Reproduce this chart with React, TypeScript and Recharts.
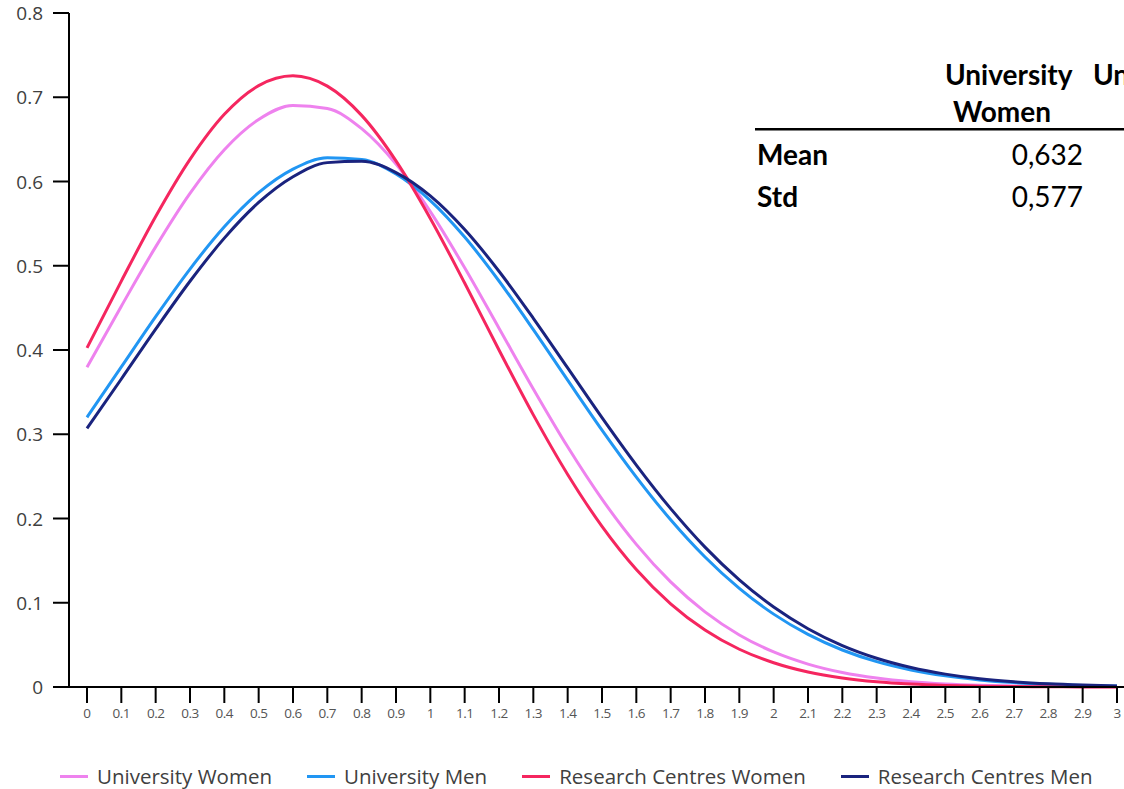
import { Line, LineChart, XAxis, YAxis } from 'recharts';

// x positions (0 to 3, step 0.1)
const xValues = [
  0, 0.1, 0.2, 0.3, 0.4, 0.5, 0.6, 0.7, 0.8, 0.9, 1, 1.1, 1.2, 1.3, 1.4, 1.5, 1.6, 1.7, 1.8, 1.9, 2, 2.1,
  2.2, 2.3, 2.4, 2.5, 2.6, 2.7, 2.8, 2.9, 3,
];

const universityWomen = [
  0.3795, 0.452, 0.5224, 0.5859, 0.6377, 0.6736, 0.6903, 0.6866, 0.6627, 0.6207, 0.5642, 0.4976,
  0.4259, 0.3538, 0.2851, 0.223, 0.1693, 0.1247, 0.0891, 0.0618, 0.0416, 0.0272, 0.0172, 0.0106,
  0.0063, 0.0037, 0.0021, 0.0011, 0.0006, 0.0003, 0.0002,
];

const universityMen = [
  0.3201, 0.3799, 0.4396, 0.4961, 0.5463, 0.5867, 0.6147, 0.6281, 0.6261, 0.6088, 0.5774, 0.5341,
  0.4819, 0.4242, 0.3642, 0.305, 0.2492, 0.1985, 0.1543, 0.117, 0.0865, 0.0624, 0.0439, 0.0301,
  0.0202, 0.0132, 0.0084, 0.0052, 0.0032, 0.0019, 0.0011,
];

const researchWomen = [
  0.4025, 0.4818, 0.5584, 0.6262, 0.6797, 0.7138, 0.7255, 0.7132, 0.6785, 0.6245, 0.5562, 0.4795,
  0.4, 0.323, 0.2523, 0.1907, 0.1395, 0.0988, 0.0677, 0.0448, 0.0288, 0.0178, 0.0107, 0.0062,
  0.0035, 0.0019, 0.001, 0.0005, 0.0003, 0.0001, 0.0001,
];

const researchMen = [
  0.307, 0.3656, 0.4248, 0.4816, 0.5328, 0.5751, 0.6057, 0.6224, 0.6241, 0.6106, 0.5829, 0.543,
  0.4935, 0.4376, 0.3787, 0.3197, 0.2634, 0.2117, 0.166, 0.1271, 0.0949, 0.0692, 0.0491, 0.0341,
  0.0231, 0.0153, 0.0098, 0.0062, 0.0038, 0.0023, 0.0013,
];

const yTicks = [0, 0.1, 0.2, 0.3, 0.4, 0.5, 0.6, 0.7, 0.8];

const seriesList = [
  { key: 'uw', name: 'University Women', color: '#EE82EE' },
  { key: 'um', name: 'University Men', color: '#2196F3' },
  { key: 'rw', name: 'Research Centres Women', color: '#F5265F' },
  { key: 'rm', name: 'Research Centres Men', color: '#1A237E' },
];

const tableHeader = ['University', 'Women'];
const tableNextHeader = 'University';
const tableRows = [
  { label: 'Mean', value: '0,632' },
  { label: 'Std', value: '0,577' },
];

const chartData = xValues.map((x, i) => ({
  x,
  uw: universityWomen[i],
  um: universityMen[i],
  rw: researchWomen[i],
  rm: researchMen[i],
}));

const WIDTH = 1124;
const HEIGHT = 789;
const AXIS_FONT = '"Open Sans", "Noto Sans", sans-serif';
const TABLE_FONT = 'Lato, "Open Sans", sans-serif';

function formatTick(value: number) {
  if (value === 0) return '0';
  return Number.isInteger(value) ? String(value) : value.toFixed(1);
}

// custom ticks so the font settings stick
function XTick({ x, y, payload }: { x?: number; y?: number; payload?: { value: number } }) {
  return (
    <text
      x={x}
      y={(y ?? 0) + 11}
      textAnchor='middle'
      fontFamily={AXIS_FONT}
      fontSize={13.5}
      letterSpacing={-0.5}
      fill='#555'
    >
      {formatTick(payload?.value ?? 0)}
    </text>
  );
}

function YTick({ x, y, payload }: { x?: number; y?: number; payload?: { value: number } }) {
  return (
    <text
      x={x}
      y={(y ?? 0) + 7}
      textAnchor='end'
      fontFamily={AXIS_FONT}
      fontSize={19}
      fill='#404040'
    >
      {formatTick(payload?.value ?? 0)}
    </text>
  );
}

function TableOverlay() {
  return (
    <svg
      width={WIDTH}
      height={HEIGHT}
      style={{ position: 'absolute', left: 0, top: 0, pointerEvents: 'none' }}
    >
      <g fontFamily={TABLE_FONT} fontSize={28} fill='#000'>
        <text x={945} y={85} fontWeight={700}>
          {tableHeader[0]}
        </text>
        <text x={953} y={122} fontWeight={700}>
          {tableHeader[1]}
        </text>
        <text x={1093} y={85} fontWeight={700}>
          {tableNextHeader}
        </text>
        <rect x={755} y={128} width={WIDTH - 755} height={2.5} fill='#000' />
        {tableRows.map((row, i) => (
          <g key={row.label}>
            <text x={757} y={165 + i * 42} fontWeight={700}>
              {row.label}
            </text>
            <text x={1083} y={165 + i * 42} textAnchor='end'>
              {row.value}
            </text>
          </g>
        ))}
      </g>
    </svg>
  );
}

function LegendRow() {
  return (
    <div
      style={{
        position: 'absolute',
        left: 60,
        top: 765,
        width: 'max-content',
        display: 'flex',
        alignItems: 'center',
        gap: 35,
        fontFamily: AXIS_FONT,
        fontSize: 20.5,
        lineHeight: '22px',
        color: '#404040',
        whiteSpace: 'nowrap',
      }}
    >
      {seriesList.map((s) => (
        <div key={s.key} style={{ display: 'flex', alignItems: 'center', gap: 9, flexShrink: 0 }}>
          <span style={{ display: 'inline-block', width: 28, height: 3, background: s.color }} />
          <span>{s.name}</span>
        </div>
      ))}
    </div>
  );
}

export default function App() {
  return (
    <div
      style={{
        position: 'absolute',
        left: 0,
        top: 0,
        width: WIDTH,
        height: HEIGHT,
        overflow: 'hidden',
        background: '#fff',
      }}
    >
      <LineChart
        width={WIDTH}
        height={HEIGHT}
        data={chartData}
        margin={{ top: 13, right: 0, bottom: 62, left: 0 }}
      >
        <XAxis
          dataKey='x'
          type='number'
          domain={[-0.0524, 3.0204]}
          allowDataOverflow
          ticks={xValues}
          interval={0}
          height={40}
          tickSize={16}
          tickMargin={4}
          axisLine={{ stroke: '#000', strokeWidth: 2 }}
          tickLine={{ stroke: '#000', strokeWidth: 2 }}
          tick={<XTick />}
        />
        <YAxis
          type='number'
          domain={[0, 0.8]}
          ticks={yTicks}
          interval={0}
          width={69}
          tickSize={16}
          tickMargin={10}
          axisLine={{ stroke: '#000', strokeWidth: 2 }}
          tickLine={{ stroke: '#000', strokeWidth: 2 }}
          tick={<YTick />}
        />
        {seriesList.map((s) => (
          <Line
            key={s.key}
            type='monotone'
            dataKey={s.key}
            name={s.name}
            stroke={s.color}
            strokeWidth={3}
            dot={false}
            activeDot={false}
            isAnimationActive={false}
          />
        ))}
      </LineChart>
      <TableOverlay />
      <LegendRow />
    </div>
  );
}
